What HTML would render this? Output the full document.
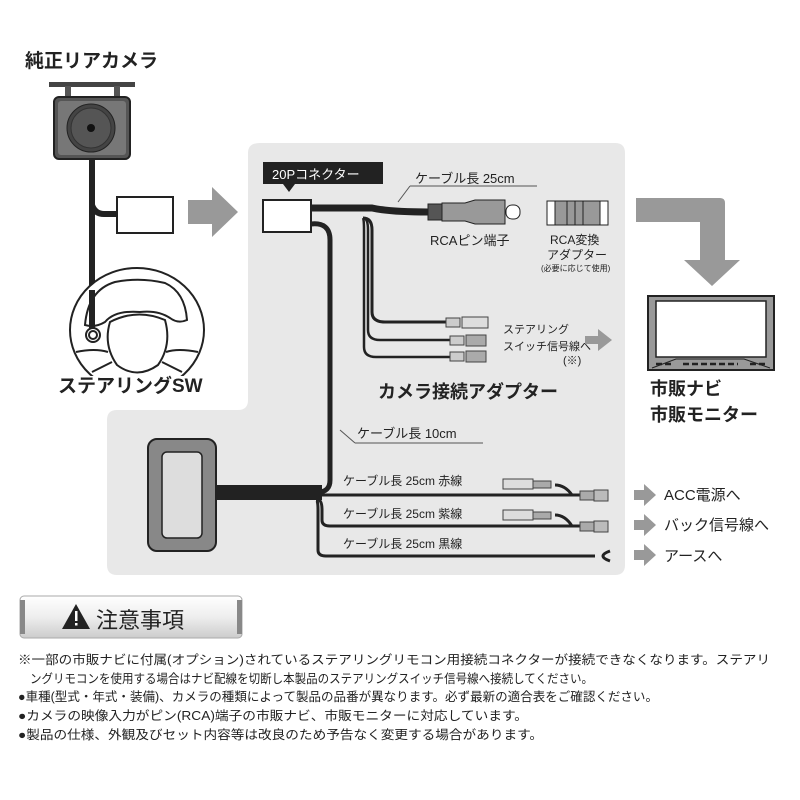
<!DOCTYPE html>
<html><head><meta charset="utf-8"><style>
body{margin:0;background:#fff;}
svg{display:block;}
text{font-family:"Liberation Sans","Noto Sans CJK JP",sans-serif;fill:#222;}
.b{font-weight:bold;}
</style></head><body>
<svg width="800" height="800" viewBox="0 0 800 800">
<defs>
<linearGradient id="g1" x1="0" y1="0" x2="0" y2="1"><stop offset="0" stop-color="#fff"/><stop offset="0.5" stop-color="#eee"/><stop offset="1" stop-color="#ccc"/></linearGradient>
<clipPath id="wc"><rect x="0" y="0" width="300" height="376"/></clipPath>
</defs>
<path d="M260,143 H615 Q625,143 625,153 V565 Q625,575 615,575 H117 Q107,575 107,565 V420 Q107,410 117,410 H238 Q248,410 248,400 V153 Q248,143 260,143 Z" fill="#e8e8e8"/>
<text x="25" y="67" font-size="19" class="b">純正リアカメラ</text>
<rect x="49" y="82" width="86" height="5" fill="#444"/>
<rect x="65" y="86" width="6" height="10" fill="#555"/><rect x="114" y="86" width="6" height="10" fill="#555"/>
<rect x="54" y="97" width="76" height="62" rx="5" fill="#555" stroke="#222" stroke-width="2"/>
<rect x="58" y="101" width="68" height="54" rx="3" fill="#777"/>
<circle cx="91" cy="128" r="24" fill="#444" stroke="#222"/>
<circle cx="91" cy="128" r="20" fill="#555" stroke="#333"/>
<circle cx="91" cy="128" r="4" fill="#111"/>
<path d="M92,160 V290" stroke="#222" stroke-width="6" fill="none"/>
<path d="M92,205 Q95,214 104,214 H118" stroke="#222" stroke-width="6" fill="none"/>
<rect x="117" y="197" width="56" height="36" fill="#fff" stroke="#222" stroke-width="2"/>
<path d="M188,200 H212 V187 L238,212 L212,237 V224 H188 Z" fill="#999"/>
<!-- steering wheel -->
<g fill="none" stroke="#222" stroke-width="2" clip-path="url(#wc)">
<ellipse cx="137" cy="330" rx="67" ry="62" fill="#fff"/>
<path d="M85,325 Q88,290 115,282 Q140,277 165,283 Q185,292 187,320 Q178,324 170,318 Q158,310 140,312 Q115,310 105,322 Q95,328 85,325 Z"/>
<path d="M110,322 Q137,308 165,320 Q172,345 158,365 Q137,380 117,365 Q103,345 110,322 Z"/>
<path d="M76,352 Q95,348 108,352 M198,352 Q178,348 166,352 M92,372 L112,362 M182,372 L162,362"/>
<circle cx="93" cy="335" r="7" fill="#fff"/><circle cx="93" cy="335" r="4"/>
</g>
<path d="M92,290 V328" stroke="#222" stroke-width="6"/>
<text x="58" y="392" font-size="19" class="b">ステアリングSW</text>
<rect x="263" y="162" width="120" height="22" fill="#222"/>
<path d="M283,184 L289,192 L295,184 Z" fill="#222"/>
<text x="272" y="179" font-size="13" style="fill:#fff">20Pコネクター</text>
<rect x="263" y="200" width="48" height="32" fill="#fff" stroke="#222" stroke-width="2"/>
<path d="M311,208 H372 Q390,212 428,212" stroke="#222" stroke-width="7" fill="none"/>
<path d="M311,224 Q330,222 330,240 V480 Q330,492 318,492" stroke="#222" stroke-width="5" fill="none"/>
<path d="M363,218 Q372,218 372,230 V312 Q372,322 385,322 H450" stroke="#222" stroke-width="3" fill="none"/>
<path d="M363,218 Q368,218 368,230 V330 Q368,340 380,340 H450" stroke="#222" stroke-width="2.5" fill="none"/>
<path d="M363,218 Q364,220 364,230 V347 Q364,357 376,357 H450" stroke="#222" stroke-width="2.5" fill="none"/>
<line x1="398" y1="202" x2="410" y2="186" stroke="#555"/>
<line x1="410" y1="186" x2="537" y2="186" stroke="#555"/>
<text x="415" y="183" font-size="13">ケーブル長 25cm</text>
<rect x="428" y="204" width="14" height="16" fill="#555" stroke="#222"/>
<path d="M442,203 H465 L475,200 H505 V224 H475 L465,221 H442 Z" fill="#999" stroke="#222"/>
<rect x="506" y="205" width="14" height="14" rx="6" fill="#fff" stroke="#222"/>
<text x="430" y="245" font-size="13">RCAピン端子</text>
<rect x="547" y="201" width="61" height="24" fill="#fff" stroke="#222"/>
<rect x="555" y="201" width="45" height="24" fill="#999" stroke="#222"/>
<line x1="567" y1="201" x2="567" y2="225" stroke="#222"/><line x1="575" y1="201" x2="575" y2="225" stroke="#222"/><line x1="583" y1="201" x2="583" y2="225" stroke="#222"/>
<text x="550" y="244" font-size="12">RCA変換</text>
<text x="547" y="259" font-size="12">アダプター</text>
<text x="541" y="271" font-size="8">(必要に応じて使用)</text>
<g stroke="#444" fill="#ccc">
<rect x="446" y="318" width="14" height="9"/><rect x="462" y="317" width="26" height="11" fill="#ddd"/>
<rect x="450" y="336" width="14" height="9"/><rect x="466" y="335" width="20" height="11" fill="#aaa"/>
<rect x="450" y="352" width="14" height="9"/><rect x="466" y="351" width="20" height="11" fill="#aaa"/>
</g>
<text x="503" y="333" font-size="11">ステアリング</text>
<text x="503" y="350" font-size="11">スイッチ信号線へ</text>
<text x="563" y="364" font-size="11">(※)</text>
<path d="M585,336 H598 V329 L612,340 L598,351 V344 H585 Z" fill="#999"/>
<text x="378" y="398" font-size="18" class="b">カメラ接続アダプター</text>
<path d="M636,198 H720 Q725,198 725,203 V260 H740 L712,286 L684,260 H700 V222 H636 Z" fill="#999"/>
<!-- monitor -->
<rect x="648" y="296" width="126" height="74" fill="#999" stroke="#222" stroke-width="2"/>
<rect x="656" y="301" width="110" height="56" fill="#fff" stroke="#222" stroke-width="1.5"/>
<path d="M652,368 L676,359 H744 L770,368" stroke="#222" fill="none"/>
<g stroke="#222" stroke-width="2.5" stroke-dasharray="6,3">
<line x1="656" y1="364" x2="672" y2="364"/><line x1="683" y1="364" x2="738" y2="364"/><line x1="750" y1="364" x2="766" y2="364"/>
</g>
<text x="650" y="395" font-size="18" class="b">市販ナビ</text>
<text x="650" y="421" font-size="18" class="b">市販モニター</text>
<line x1="340" y1="430" x2="355" y2="443" stroke="#555"/>
<line x1="355" y1="443" x2="483" y2="443" stroke="#555"/>
<text x="357" y="438" font-size="13">ケーブル長 10cm</text>
<rect x="148" y="439" width="68" height="112" rx="9" fill="#888" stroke="#222" stroke-width="2"/>
<rect x="162" y="452" width="40" height="86" rx="5" fill="#ddd" stroke="#222" stroke-width="1.5"/>
<rect x="216" y="485" width="106" height="15" fill="#222"/>
<path d="M320,495 H585" stroke="#222" stroke-width="3" fill="none"/>
<path d="M318,500 Q322,500 322,510 V520 Q322,526 330,526 H585" stroke="#222" stroke-width="3" fill="none"/>
<path d="M316,500 Q318,500 318,510 V550 Q318,556 326,556 H595" stroke="#222" stroke-width="3" fill="none"/>
<path d="M555,485 Q565,485 572,495 M555,515 Q565,515 572,526" stroke="#222" stroke-width="3" fill="none"/>
<text x="343" y="485" font-size="12">ケーブル長 25cm  赤線</text>
<text x="343" y="518" font-size="12">ケーブル長 25cm  紫線</text>
<text x="343" y="548" font-size="12">ケーブル長 25cm  黒線</text>
<g stroke="#444" fill="#ddd">
<rect x="503" y="479" width="30" height="10"/><rect x="533" y="481" width="18" height="7" fill="#aaa"/>
<rect x="503" y="510" width="30" height="10"/><rect x="533" y="512" width="18" height="7" fill="#aaa"/>
<rect x="580" y="491" width="14" height="9" fill="#aaa"/><rect x="594" y="490" width="14" height="11" fill="#bbb"/>
<rect x="580" y="522" width="14" height="9" fill="#aaa"/><rect x="594" y="521" width="14" height="11" fill="#bbb"/>
</g>
<path d="M610,551 Q596,556 610,561" stroke="#222" stroke-width="3" fill="none"/>
<g fill="#999">
<path d="M634,490 H644 V484 L656,495 L644,506 V500 H634 Z"/>
<path d="M634,520 H644 V514 L656,525 L644,536 V530 H634 Z"/>
<path d="M634,550 H644 V544 L656,555 L644,566 V560 H634 Z"/>
</g>
<text x="664" y="500" font-size="15">ACC電源へ</text>
<text x="664" y="530" font-size="15">バック信号線へ</text>
<text x="664" y="561" font-size="15">アースへ</text>
<rect x="20" y="596" width="222" height="42" rx="4" fill="url(#g1)" stroke="#aaa"/>
<rect x="20" y="600" width="5" height="34" fill="#888"/><rect x="237" y="600" width="5" height="34" fill="#888"/>
<path d="M62,629 L76,604 L90,629 Z" fill="#222"/>
<rect x="75" y="611" width="2.5" height="10" fill="#fff"/><rect x="75" y="623" width="2.5" height="2.5" fill="#fff"/>
<text x="96" y="628" font-size="22">注意事項</text>
<g font-size="12.5">
<text x="18" y="664" textLength="752" lengthAdjust="spacingAndGlyphs">※一部の市販ナビに付属(オプション)されているステアリングリモコン用接続コネクターが接続できなくなります。ステアリ</text>
<text x="30" y="683" textLength="563" lengthAdjust="spacingAndGlyphs">ングリモコンを使用する場合はナビ配線を切断し本製品のステアリングスイッチ信号線へ接続してください。</text>
<text x="18" y="701" textLength="640" lengthAdjust="spacingAndGlyphs">●車種(型式・年式・装備)、カメラの種類によって製品の品番が異なります。必ず最新の適合表をご確認ください。</text>
<text x="18" y="720" textLength="510" lengthAdjust="spacingAndGlyphs">●カメラの映像入力がピン(RCA)端子の市販ナビ、市販モニターに対応しています。</text>
<text x="18" y="739" textLength="525" lengthAdjust="spacingAndGlyphs">●製品の仕様、外観及びセット内容等は改良のため予告なく変更する場合があります。</text>
</g>
</svg>
</body></html>
